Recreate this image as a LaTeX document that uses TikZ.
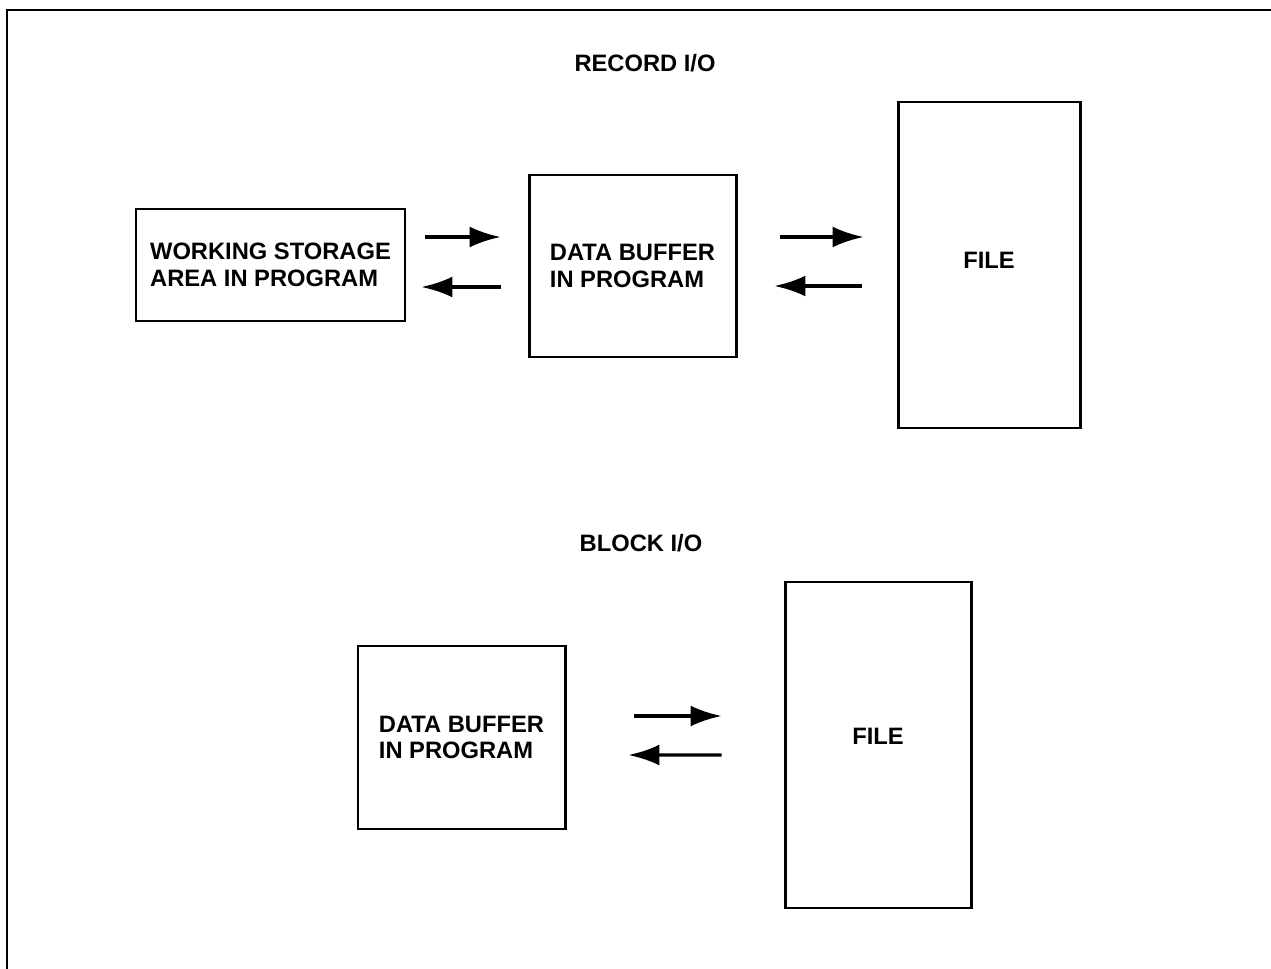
\documentclass[tikz,border=0pt]{standalone}
\usepackage{fontspec}
\setmainfont{Liberation Sans}
\usetikzlibrary{arrows.meta}

\tikzset{
  box/.style={draw, line width=1.7pt, inner sep=0pt, align=left,
    font=\bfseries\fontsize{13.5}{15}\selectfont},
  heading/.style={font=\bfseries\fontsize{13.5}{15}\selectfont},
  flow/.style={line width=1.9pt, -{Latex[length=0.62cm,width=0.42cm]}}
}

\begin{document}
\begin{tikzpicture}[x=0.02cm,y=-0.02cm]
  \useasboundingbox (0,0) rectangle (1271,969);
  % Frame
  \draw[line width=1.5pt] (7,969) -- (7,10) -- (1271,10);
  % Record I/O
  \node[heading] (rtitle) at (645,63) {RECORD I/O};
  \node[box, minimum width=269*0.02cm, minimum height=112*0.02cm] (ws) at (270.5,265) {WORKING STORAGE\\AREA IN PROGRAM};
  \node[box, minimum width=207*0.02cm, minimum height=182*0.02cm] (db) at (632.5,266) {DATA BUFFER\\IN PROGRAM};
  \node[box, minimum width=182*0.02cm, minimum height=326*0.02cm,
    label={[heading,yshift=5*0.02cm]center:FILE}] (file) at (989,265) {};
  \draw[flow] ([shift={(19,-28)}]ws.east) -- ([shift={(-27,-29)}]db.west);
  \draw[flow] ([shift={(-27,21)}]db.west) -- ([shift={(15,22)}]ws.east);
  \draw[flow] ([shift={(42,-29)}]db.east) -- ([shift={(-33,-28)}]file.west);
  \draw[flow] ([shift={(-35,21)}]file.west) -- ([shift={(37,20)}]db.east);
  % Block I/O
  \node[heading] (btitle) at (641,543) {BLOCK I/O};
  \node[box, minimum width=207*0.02cm, minimum height=183*0.02cm] (dbb) at (461.5,737.5) {DATA BUFFER\\IN PROGRAM};
  \node[box, minimum width=186*0.02cm, minimum height=326*0.02cm,
    label={[heading,yshift=9*0.02cm]center:FILE}] (fileb) at (878,745) {};
  \draw[flow] ([shift={(67,-21.5)}]dbb.east) -- ([shift={(-62,-29)}]fileb.west);
  \draw[flow] ([shift={(-62,10)}]fileb.west) -- ([shift={(62,17.5)}]dbb.east);
\end{tikzpicture}
\end{document}
